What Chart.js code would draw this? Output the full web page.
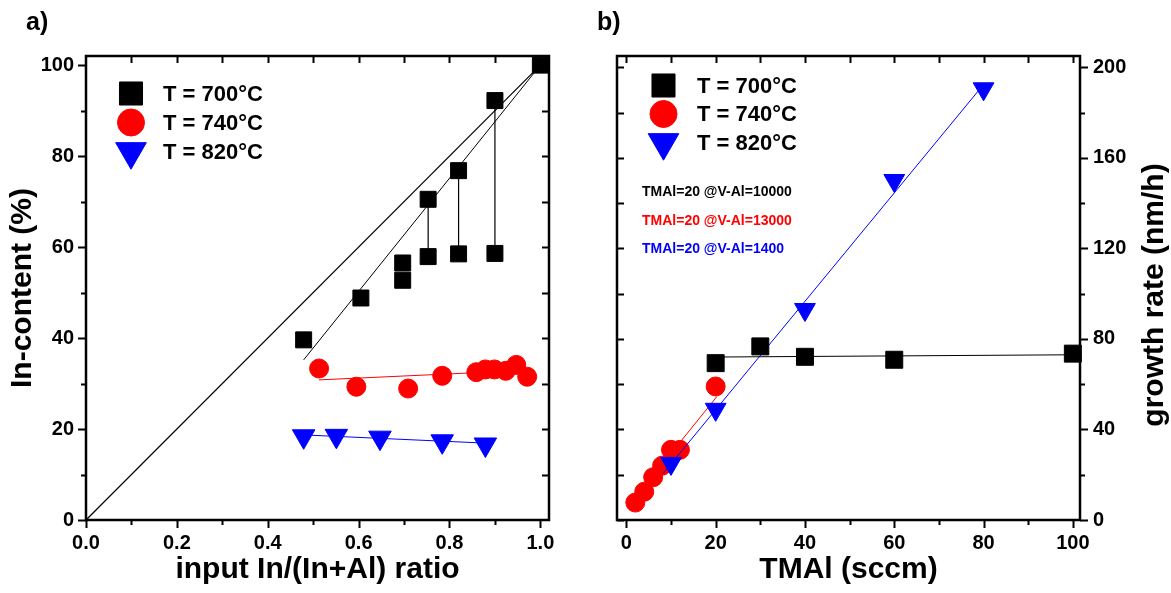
<!DOCTYPE html>
<html>
<head>
<meta charset="utf-8">
<title>In-content and growth rate</title>
<script src="https://cdn.jsdelivr.net/npm/chart.js@4.4.0/dist/chart.umd.min.js"></script>
<style>
  html, body { margin: 0; padding: 0; background: #fff; }
  #wrap { position: relative; width: 1171px; height: 593px; }
  #chartA { position: absolute; left: 0; top: 0; }
  #chartB { position: absolute; left: 590px; top: 0; }
</style>
</head>
<body>
<div id="wrap">
  <canvas id="chartA" width="590" height="593"></canvas>
  <canvas id="chartB" width="581" height="593"></canvas>
</div>
<script>
// ---------------------------------------------------------------------------
// a) In-content vs. input In/(In+Al) ratio
// ---------------------------------------------------------------------------
const ratioTicks = [0, 0.2, 0.4, 0.6, 0.8, 1.0];
const ratioMinor = [0.1, 0.3, 0.5, 0.7, 0.9];
const ratioTop = [0.1, 0.2, 0.3, 0.4, 0.5, 0.6, 0.7, 0.8, 0.9, 1.0];
const contentTicks = [0, 20, 40, 60, 80, 100];
const contentMinor = [10, 30, 50, 70, 90];
const contentRight = [10, 20, 30, 40, 50, 60, 70, 80, 90, 100];

const ratio700 = [0.479, 0.605, 0.697, 0.697, 0.753, 0.753, 0.820, 0.820, 0.900, 0.900, 1.0];
const content700 = [39.6, 48.8, 56.5, 52.7, 70.5, 57.9, 76.8, 58.5, 92.2, 58.6, 100];
// pairs of 700°C points joined by a vertical segment (indices into the arrays above)
const links700 = [[4, 5], [6, 7], [8, 9]];

const ratio740 = [0.513, 0.595, 0.709, 0.784, 0.859, 0.879, 0.899, 0.924, 0.947, 0.971];
const content740 = [33.3, 29.3, 28.9, 31.7, 32.5, 33.1, 33.1, 32.8, 34.1, 31.5];

const ratio820 = [0.479, 0.551, 0.647, 0.784, 0.879];
const content820 = [18.4, 18.5, 18.1, 17.3, 16.6];

// straight guide lines: [x0, x1] / [y0, y1]
const idealRatio = [0, 1];
const idealContent = [0, 100];
const fit700Ratio = [0.479, 1.0];
const fit700Content = [35.2, 100];
const fit740Ratio = [0.513, 0.971];
const fit740Content = [30.8, 32.9];
const fit820Ratio = [0.479, 0.879];
const fit820Content = [18.7, 16.9];

// ---------------------------------------------------------------------------
// b) growth rate vs. TMAl flow
// ---------------------------------------------------------------------------
const tmalTicks = [0, 20, 40, 60, 80, 100];
const tmalMinor = [10, 30, 50, 70, 90];
const tmalTop = [0, 10, 20, 30, 40, 50, 60, 70, 80, 90, 100];
const rateTicks = [0, 40, 80, 120, 160, 200];
const rateMinor = [20, 60, 100, 140, 180];
const rateLeft = [0, 20, 40, 60, 80, 100, 120, 140, 160, 180, 200];

const tmal700 = [20, 30, 40, 60, 100];
const rate700 = [69.3, 76.7, 72.1, 70.8, 73.5];
const tmal740 = [2, 4, 6, 8, 10, 12, 20];
const rate740 = [7.7, 12.5, 18.9, 24.0, 31.0, 31.0, 59.0];
const tmal820 = [10, 20, 40, 60, 80];
const rate820 = [25.0, 48.9, 93.0, 150.0, 190.5];

const fitB700Tmal = [20, 100];
const fitB700Rate = [72.0, 73.0];
const fitB740Tmal = [2, 20.3];
const fitB740Rate = [9.8, 54.6];
const fitB820Tmal = [8.3, 80];
const fitB820Rate = [20.7, 192.4];

const seriesLabels = ['T = 700°C', 'T = 740°C', 'T = 820°C'];
const notes = ['TMAl=20 @V-Al=10000', 'TMAl=20 @V-Al=13000', 'TMAl=20 @V-Al=1400'];

const BLACK = '#000000', RED = '#ff0000', BLUE = '#0000ff';
const FAMILY = '"Liberation Sans", Arial, Helvetica, sans-serif';

Chart.defaults.font.family = FAMILY;
Chart.defaults.color = BLACK;

const pts = (xs, ys) => xs.map((x, i) => ({ x: x, y: ys[i] }));

function markers(label, xs, ys, style, radius, color, rotation) {
    return {
        label: label,
        data: pts(xs, ys),
        showLine: false,
        pointStyle: style,
        pointRadius: radius,
        pointHoverRadius: radius,
        pointRotation: rotation || 0,
        backgroundColor: color,
        borderColor: color,
        pointBorderWidth: 1,
        clip: false
    };
}

function line(xs, ys, color, width) {
    return {
        data: pts(xs, ys),
        showLine: true,
        borderColor: color,
        borderWidth: width || 1,
        pointRadius: 0,
        fill: false,
        clip: false
    };
}

// frame box plus tick marks on all four sides (in / out per side)
const framePlugin = {
    id: 'frame',
    afterDatasetsDraw(chart, args, opts) {
        const { ctx, chartArea: a } = chart;
        ctx.save();
        ctx.strokeStyle = BLACK;
        ctx.lineWidth = 2;
        for (const m of opts.marks) {
            const scale = chart.scales[m.scale];
            const s = m.out ? 1 : -1;
            ctx.beginPath();
            for (const v of m.values) {
                const p = Math.round(scale.getPixelForValue(v)) + 0.5;
                if (m.side === 'bottom') { ctx.moveTo(p, a.bottom); ctx.lineTo(p, a.bottom + s * m.len); }
                if (m.side === 'top') { ctx.moveTo(p, a.top); ctx.lineTo(p, a.top - s * m.len); }
                if (m.side === 'left') { ctx.moveTo(a.left, p); ctx.lineTo(a.left - s * m.len, p); }
                if (m.side === 'right') { ctx.moveTo(a.right, p); ctx.lineTo(a.right + s * m.len, p); }
            }
            ctx.stroke();
        }
        ctx.lineWidth = 2.5;
        ctx.strokeRect(a.left, a.top, a.right - a.left, a.bottom - a.top);
        ctx.restore();
    }
};

// legend inside the plot, notes, panel letter and extra rotated titles
const keyPlugin = {
    id: 'key',
    afterDraw(chart, args, opts) {
        const { ctx } = chart;
        ctx.save();
        (opts.items || []).forEach((it, i) => {
            const ds = chart.data.datasets[it.dataset];
            const y = opts.y + i * opts.gap;
            ctx.fillStyle = ds.backgroundColor;
            ctx.strokeStyle = ds.borderColor;
            ctx.lineWidth = 1;
            Chart.helpers.drawPoint(ctx, {
                pointStyle: ds.pointStyle,
                radius: it.radius,
                rotation: ds.pointRotation || 0,
                borderWidth: 1
            }, opts.markerX, y + (it.dy || 0));
            ctx.fillStyle = BLACK;
            ctx.font = 'bold 22px ' + FAMILY;
            ctx.textAlign = 'left';
            ctx.textBaseline = 'middle';
            ctx.fillText(ds.label, opts.textX, y + 1);
        });
        (opts.notes || []).forEach((n, i) => {
            ctx.fillStyle = n.color;
            ctx.font = 'bold 14px ' + FAMILY;
            ctx.textAlign = 'left';
            ctx.textBaseline = 'middle';
            ctx.fillText(n.text, opts.notesX, opts.notesY + i * opts.notesGap);
        });
        if (opts.letter) {
            ctx.fillStyle = BLACK;
            ctx.font = 'bold 25px ' + FAMILY;
            ctx.textAlign = 'left';
            ctx.textBaseline = 'alphabetic';
            ctx.fillText(opts.letter.text, opts.letter.x, opts.letter.y);
        }
        if (opts.sideTitle) {
            const t = opts.sideTitle;
            ctx.translate(t.x, t.y);
            ctx.rotate(-Math.PI / 2);
            ctx.fillStyle = BLACK;
            ctx.font = 'bold 30px ' + FAMILY;
            ctx.textAlign = 'center';
            ctx.textBaseline = 'middle';
            ctx.fillText(t.text, 0, 0);
        }
        ctx.restore();
    }
};

const tickFont = { size: 20, weight: 'bold', family: FAMILY };
const titleFont = { size: 30, weight: 'bold', family: FAMILY };
const setTicks = vals => scale => { scale.ticks = vals.map(v => ({ value: v })); };

// ---------------------------------------------------------------- chart a
new Chart(document.getElementById('chartA'), {
    type: 'scatter',
    data: {
        datasets: [
            markers(seriesLabels[0], ratio700, content700, 'rect', 11.3, BLACK),
            markers(seriesLabels[1], ratio740, content740, 'circle', 9.5, RED),
            markers(seriesLabels[2], ratio820, content820, 'triangle', 13, BLUE, 180),
            line(idealRatio, idealContent, BLACK, 1.2),
            line(fit700Ratio, fit700Content, BLACK, 1),
            ...links700.map(([i, j]) => line([ratio700[i], ratio700[j]], [content700[i], content700[j]], BLACK, 1.2)),
            line(fit740Ratio, fit740Content, RED, 1),
            line(fit820Ratio, fit820Content, BLUE, 1)
        ]
    },
    options: {
        responsive: false,
        devicePixelRatio: 1,
        animation: false,
        events: [],
        layout: { padding: { top: 56, right: 41, left: 0, bottom: 0 } },
        plugins: {
            legend: { display: false },
            tooltip: { enabled: false },
            frame: {
                marks: [
                    { scale: 'x', side: 'bottom', values: ratioTicks, len: 8, out: true },
                    { scale: 'x', side: 'bottom', values: ratioMinor, len: 5, out: true },
                    { scale: 'x', side: 'top', values: ratioTop, len: 7, out: false },
                    { scale: 'y', side: 'left', values: contentTicks, len: 8, out: true },
                    { scale: 'y', side: 'left', values: contentMinor, len: 5, out: true },
                    { scale: 'y', side: 'right', values: contentRight, len: 7, out: false }
                ]
            },
            key: {
                items: [{ dataset: 0, radius: 16.3 }, { dataset: 1, radius: 13.5 }, { dataset: 2, radius: 17.7 }],
                markerX: 131, textX: 163, y: 93.5, gap: 29,
                letter: { text: 'a)', x: 26, y: 30 }
            }
        },
        scales: {
            x: {
                type: 'linear', position: 'bottom', min: 0, max: 1.019,
                grid: { display: false, drawTicks: false },
                border: { display: false },
                afterBuildTicks: setTicks(ratioTicks),
                afterFit: s => { s.height = 73; },
                ticks: { font: tickFont, color: BLACK, padding: 11, maxRotation: 0, autoSkip: false,
                         callback: v => Number(v).toFixed(1) },
                title: { display: true, text: 'input In/(In+Al) ratio', font: titleFont, color: BLACK,
                         padding: { top: 0, bottom: 5 } }
            },
            y: {
                type: 'linear', position: 'left', min: 0, max: 102,
                grid: { display: false, drawTicks: false },
                border: { display: false },
                afterBuildTicks: setTicks(contentTicks),
                afterFit: s => { s.width = 86; },
                ticks: { font: tickFont, color: BLACK, padding: 12, autoSkip: false },
                title: { display: true, text: 'In-content (%)', font: titleFont, color: BLACK,
                         padding: { top: 5, bottom: 0 } }
            }
        }
    },
    plugins: [framePlugin, keyPlugin]
});

// ---------------------------------------------------------------- chart b
new Chart(document.getElementById('chartB'), {
    type: 'scatter',
    data: {
        datasets: [
            line(fitB700Tmal, fitB700Rate, BLACK, 1),
            markers(seriesLabels[0], tmal700, rate700, 'rect', 12, BLACK),
            line(fitB820Tmal, fitB820Rate, BLUE, 1),
            markers(seriesLabels[2], tmal820, rate820, 'triangle', 12, BLUE, 180),
            line(fitB740Tmal, fitB740Rate, RED, 1),
            markers(seriesLabels[1], tmal740, rate740, 'circle', 9.5, RED)
        ]
    },
    options: {
        responsive: false,
        devicePixelRatio: 1,
        animation: false,
        events: [],
        layout: { padding: { top: 56, right: 0, left: 27, bottom: 0 } },
        plugins: {
            legend: { display: false },
            tooltip: { enabled: false },
            frame: {
                marks: [
                    { scale: 'x', side: 'bottom', values: tmalTicks, len: 8, out: true },
                    { scale: 'x', side: 'bottom', values: tmalMinor, len: 5, out: true },
                    { scale: 'x', side: 'top', values: tmalTop, len: 7, out: false },
                    { scale: 'y', side: 'right', values: rateTicks, len: 8, out: true },
                    { scale: 'y', side: 'right', values: rateMinor, len: 5, out: true },
                    { scale: 'y', side: 'left', values: rateLeft, len: 7, out: false }
                ]
            },
            key: {
                items: [{ dataset: 1, radius: 16.3 }, { dataset: 5, radius: 13.5 }, { dataset: 3, radius: 17.7 }],
                markerX: 73.5, textX: 107, y: 85.5, gap: 28.5,
                notes: [
                    { text: notes[0], color: BLACK },
                    { text: notes[1], color: RED },
                    { text: notes[2], color: BLUE }
                ],
                notesX: 52, notesY: 192, notesGap: 28.7,
                letter: { text: 'b)', x: 7, y: 30 },
                sideTitle: { text: 'growth rate (nm/h)', x: 565, y: 295 }
            }
        },
        scales: {
            x: {
                type: 'linear', position: 'bottom', min: -2.1, max: 101.6,
                grid: { display: false, drawTicks: false },
                border: { display: false },
                afterBuildTicks: setTicks(tmalTicks),
                afterFit: s => { s.height = 73; },
                ticks: { font: tickFont, color: BLACK, padding: 11, maxRotation: 0, autoSkip: false },
                title: { display: true, text: 'TMAl (sccm)', font: titleFont, color: BLACK,
                         padding: { top: 0, bottom: 5 } }
            },
            y: {
                type: 'linear', position: 'right', min: 0, max: 205,
                grid: { display: false, drawTicks: false },
                border: { display: false },
                afterBuildTicks: setTicks(rateTicks),
                afterFit: s => { s.width = 91; },
                ticks: { font: tickFont, color: BLACK, padding: 13, autoSkip: false }
            }
        }
    },
    plugins: [framePlugin, keyPlugin]
});
</script>
</body>
</html>
